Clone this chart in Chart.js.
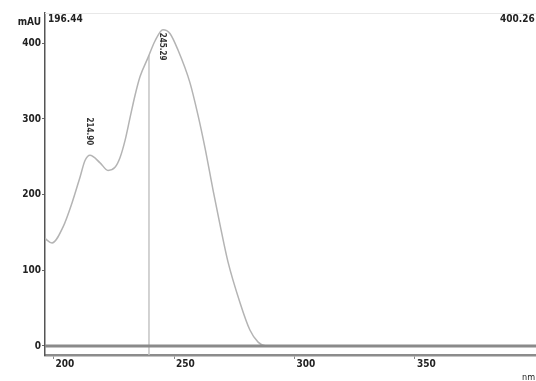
<!DOCTYPE html>
<html>
<head>
<meta charset="utf-8">
<script src="https://cdn.jsdelivr.net/npm/chart.js@4.4.0/dist/chart.umd.min.js"></script>
<style>
  html, body { margin: 0; padding: 0; background: #fff; }
  #wrap { width: 536px; height: 381px; position: relative; }
</style>
</head>
<body>
<div id="wrap"><canvas id="spectrum"></canvas></div>
<script>
// wavelength (nm) and absorbance (mAU)
const wavelengths = [196.44, 199.35, 203.9, 207.65, 210.97, 213.05, 215.1, 219.3, 222.6, 225.5, 227.6,
  229.7, 231.7, 233.8, 235.9, 239.2, 242.1, 245.4, 248.3, 251.65, 256.6, 259.95, 262.9, 266.2,
  269.1, 272.4, 277.4, 281.5, 284.9, 288.2, 300, 320, 350, 380, 400.26];
const absorbance = [142, 136, 157, 189, 223, 245, 252, 242, 232, 236, 249,
  272, 301, 331, 356, 381, 403, 418, 413, 391, 348, 305, 261, 206,
  160, 111, 57, 21, 5, 0, 0, 0, 0, 0, 0];

const peakWavelengths = [215.1, 245.4];
const peakValues = [252, 418];
const peakLabels = ['214.90', '245.29'];

const markerWavelength = 239.6;
const markerTop = 384;

const xRange = [196.44, 400.26];
const yTicks = [0, 100, 200, 300, 400];
const xTicks = [200, 250, 300, 350];

const labelFont = 'bold 10px "DejaVu Sans Condensed", "DejaVu Sans", sans-serif';

const extras = {
  id: 'extras',
  beforeDatasetsDraw(chart) {
    const { ctx, chartArea } = chart;
    ctx.save();
    // faint frame line at top
    ctx.strokeStyle = '#e8e8e8';
    ctx.lineWidth = 1;
    ctx.beginPath();
    ctx.moveTo(chartArea.left, chartArea.top + 0.5);
    ctx.lineTo(chartArea.right, chartArea.top + 0.5);
    ctx.stroke();
    ctx.restore();
  },
  afterDatasetsDraw(chart) {
    const { ctx, chartArea, scales } = chart;
    const y0 = scales.y.getPixelForValue(0);
    ctx.save();
    // zero baseline band
    ctx.strokeStyle = '#8a8a8a';
    ctx.lineWidth = 3;
    ctx.beginPath();
    ctx.moveTo(chartArea.left, y0);
    ctx.lineTo(chartArea.right, y0);
    ctx.stroke();

    // texts
    ctx.fillStyle = '#222';
    ctx.font = labelFont;
    ctx.textBaseline = 'middle';
    ctx.textAlign = 'right';
    ctx.fillText('mAU', 41, 22);
    ctx.textAlign = 'left';
    ctx.fillText('196.44', 48, 19);
    ctx.fillText('400.26', 500, 19);
    ctx.font = '9px "DejaVu Sans Condensed", sans-serif';
    ctx.fillText('nm', 522, 378);

    // peak labels, rotated
    ctx.font = 'bold 8px "DejaVu Sans Condensed", sans-serif';
    ctx.fillStyle = '#333';
    peakWavelengths.forEach((w, i) => {
      const px = scales.x.getPixelForValue(w);
      const py = scales.y.getPixelForValue(peakValues[i]);
      ctx.save();
      if (i === 0) {
        ctx.translate(px - 1, py - 10);
        ctx.rotate(Math.PI / 2);
        ctx.textAlign = 'right';
      } else {
        ctx.translate(px - 1, py + 3);
        ctx.rotate(Math.PI / 2);
        ctx.textAlign = 'left';
      }
      ctx.textBaseline = 'middle';
      ctx.fillText(peakLabels[i], 0, 0);
      ctx.restore();
    });
    ctx.restore();
  }
};

new Chart(document.getElementById('spectrum'), {
  type: 'line',
  data: {
    datasets: [{
      data: wavelengths.map((w, i) => ({ x: w, y: absorbance[i] })),
      borderColor: '#b4b4b4',
      borderWidth: 1.5,
      pointRadius: 0,
      cubicInterpolationMode: 'monotone',
      fill: false
    }, {
      data: [{ x: markerWavelength, y: -12 }, { x: markerWavelength, y: markerTop }],
      borderColor: '#c4c4c4',
      borderWidth: 1.5,
      pointRadius: 0
    }]
  },
  options: {
    responsive: true,
    maintainAspectRatio: false,
    animation: false,
    layout: { padding: { top: 13, right: 0, left: 0, bottom: 0 } },
    plugins: { legend: { display: false }, tooltip: { enabled: false } },
    scales: {
      x: {
        type: 'linear',
        min: xRange[0],
        max: xRange[1],
        afterBuildTicks: s => { s.ticks = xTicks.map(v => ({ value: v })); },
        afterFit: s => { s.height = 26; },
        border: { color: '#8c8c8c', width: 2.5 },
        grid: { drawOnChartArea: false, tickLength: 4, color: '#888' },
        ticks: {
          align: 'start',
          labelOffset: 2,
          padding: -1,
          color: '#222',
          font: { family: '"DejaVu Sans Condensed", "DejaVu Sans", sans-serif', size: 10, weight: 'bold' },
          maxRotation: 0
        }
      },
      y: {
        min: -12,
        max: 440,
        afterBuildTicks: s => { s.ticks = yTicks.map(v => ({ value: v })); },
        afterFit: s => { s.width = 45; },
        border: { color: '#555', width: 1.5 },
        grid: { drawOnChartArea: false, tickLength: 3, color: '#666' },
        ticks: {
          padding: 1,
          color: '#222',
          font: { family: '"DejaVu Sans Condensed", "DejaVu Sans", sans-serif', size: 10, weight: 'bold' }
        }
      }
    }
  },
  plugins: [extras]
});
</script>
</body>
</html>
